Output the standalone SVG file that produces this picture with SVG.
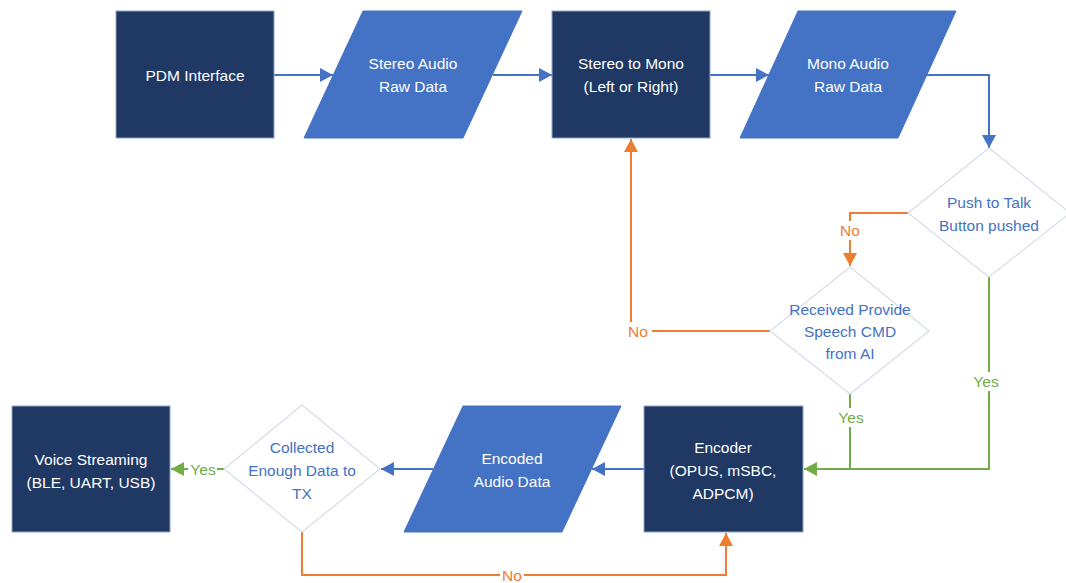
<svg xmlns="http://www.w3.org/2000/svg" width="1066" height="583" viewBox="0 0 1066 583">
<style>
.box{fill:#203864;stroke:#8FA3C7;stroke-width:1}
.data{fill:#4472C4;stroke:#4472C4;stroke-width:1}
.dec{fill:#FFFFFF;stroke:#D5DCEA;stroke-width:1.2}
text{font-family:"Liberation Sans",Arial,sans-serif;font-size:15.5px;text-anchor:middle;dominant-baseline:central}
.wt{fill:#FFFFFF}
.bt{fill:#4472C4}
.ol{fill:#ED7D31}
.gl{fill:#70AD47}
.cb{fill:none;stroke:#4472C4;stroke-width:2}
.co{fill:none;stroke:#ED7D31;stroke-width:2}
.cg{fill:none;stroke:#70AD47;stroke-width:2}
.lbg{fill:#FFFFFF}
</style>
<defs>
<marker id="ab" markerUnits="userSpaceOnUse" markerWidth="14" markerHeight="14" refX="13" refY="7" orient="auto"><path d="M0,0 L13,7 L0,14 z" fill="#4472C4"/></marker>
<marker id="ao" markerUnits="userSpaceOnUse" markerWidth="14" markerHeight="14" refX="13" refY="7" orient="auto"><path d="M0,0 L13,7 L0,14 z" fill="#ED7D31"/></marker>
<marker id="ag" markerUnits="userSpaceOnUse" markerWidth="14" markerHeight="14" refX="13" refY="7" orient="auto"><path d="M0,0 L13,7 L0,14 z" fill="#70AD47"/></marker>
</defs>
<rect width="1066" height="583" fill="#FFFFFF"/>

<g id="connectors">
<path class="cb" d="M274,75 H333" marker-end="url(#ab)"/>
<path class="cb" d="M493,75 H552" marker-end="url(#ab)"/>
<path class="cb" d="M710,75 H769" marker-end="url(#ab)"/>
<path class="cb" d="M926,75 H989 V148" marker-end="url(#ab)"/>
<path class="co" d="M908,213 H850 V266" marker-end="url(#ao)"/>
<path class="co" d="M770,331 H631 V139" marker-end="url(#ao)"/>
<path class="cg" d="M989,277 V469 H804" marker-end="url(#ag)"/>
<path class="cg" d="M850,394 V469"/>
<path class="cb" d="M644,469 H592" marker-end="url(#ab)"/>
<path class="cb" d="M433,469 H381" marker-end="url(#ab)"/>
<path class="cg" d="M224,469 H171" marker-end="url(#ag)"/>
<path class="co" d="M302,532 V575 H726 V533" marker-end="url(#ao)"/>

<rect class="lbg" x="838" y="221" width="24" height="19"/>
<text class="ol" x="850" y="230">No</text>
<rect class="lbg" x="622" y="322" width="30" height="19"/>
<text class="ol" x="638" y="331">No</text>
<rect class="lbg" x="970" y="372" width="34" height="19"/>
<text class="gl" x="986" y="381">Yes</text>
<rect class="lbg" x="835" y="408" width="30" height="19"/>
<text class="gl" x="851" y="417">Yes</text>
<rect class="lbg" x="188" y="460" width="29" height="19"/>
<text class="gl" x="203" y="469">Yes</text>
<rect class="lbg" x="500" y="566" width="24" height="19"/>
<text class="ol" x="512" y="575">No</text>
</g>

<g id="pdm">
<rect class="box" x="116" y="11" width="158" height="127"/>
<text class="wt" x="195" y="75">PDM Interface</text>
</g>
<g id="stereo-raw">
<polygon class="data" points="363,11 522,11 463,138 304,138"/>
<text class="wt" x="413" y="63">Stereo Audio</text>
<text class="wt" x="413" y="86">Raw Data</text>
</g>
<g id="stereo-to-mono">
<rect class="box" x="552" y="11" width="158" height="127"/>
<text class="wt" x="631" y="63">Stereo to Mono</text>
<text class="wt" x="631" y="86">(Left or Right)</text>
</g>
<g id="mono-raw">
<polygon class="data" points="798,11 956,11 898,138 740,138"/>
<text class="wt" x="848" y="63">Mono Audio</text>
<text class="wt" x="848" y="86">Raw Data</text>
</g>
<g id="push-to-talk">
<polygon class="dec" points="989,148 1070,213 989,277 908,213"/>
<text class="bt" x="989" y="202">Push to Talk</text>
<text class="bt" x="989" y="225">Button pushed</text>
</g>
<g id="received-cmd">
<polygon class="dec" points="850,267 929,331 850,394 770,331"/>
<text class="bt" x="850" y="309">Received Provide</text>
<text class="bt" x="850" y="331">Speech CMD</text>
<text class="bt" x="850" y="353">from AI</text>
</g>
<g id="encoder">
<rect class="box" x="644" y="406" width="159" height="126"/>
<text class="wt" x="723" y="447">Encoder</text>
<text class="wt" x="723" y="470">(OPUS, mSBC,</text>
<text class="wt" x="723" y="493">ADPCM)</text>
</g>
<g id="encoded-data">
<polygon class="data" points="463,406 621,406 562,532 404,532"/>
<text class="wt" x="512" y="458">Encoded</text>
<text class="wt" x="512" y="481">Audio Data</text>
</g>
<g id="collected">
<polygon class="dec" points="302,405 380,469 302,532 224,469"/>
<text class="bt" x="302" y="447">Collected</text>
<text class="bt" x="302" y="470">Enough Data to</text>
<text class="bt" x="302" y="493">TX</text>
</g>
<g id="voice-streaming">
<rect class="box" x="12" y="406" width="158" height="126"/>
<text class="wt" x="91" y="459">Voice Streaming</text>
<text class="wt" x="91" y="482">(BLE, UART, USB)</text>
</g>
</svg>
